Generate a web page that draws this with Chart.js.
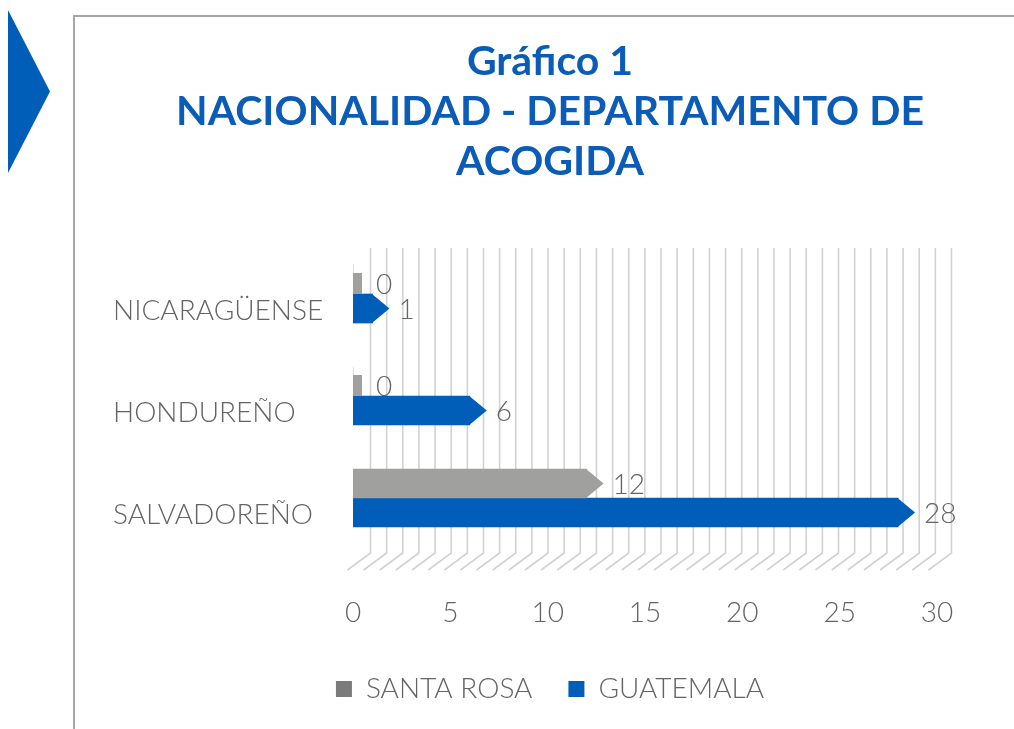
<!DOCTYPE html>
<html><head><meta charset="utf-8">
<script src="https://cdn.jsdelivr.net/npm/chart.js@4.4.1/dist/chart.umd.min.js"></script>
<style>
html,body{margin:0;padding:0;background:#fff;overflow:hidden;width:1014px;height:729px;}
#tri{position:absolute;left:8px;top:10px;width:42px;height:163px;background:#005eb8;clip-path:polygon(0 0,100% 50%,0 100%);}
#frame{position:absolute;left:73px;top:15px;width:1000px;height:800px;border-left:2px solid #a6a6a6;border-top:2px solid #a6a6a6;}
#wrap{position:absolute;left:75px;top:17px;width:950px;height:750px;}
</style></head><body>
<div id="tri"></div><div id="frame"></div>
<div id="wrap"><canvas id="c" width="950" height="750"></canvas></div>
<script>
// ---- data ----
const categories = ['NICARAGÜENSE', 'HONDUREÑO', 'SALVADOREÑO'];
const seriesNames = ['SANTA ROSA', 'GUATEMALA'];
const santaRosa = [0, 0, 12];
const guatemala = [1, 6, 28];
const xMin = 0;
const xMax = 30;
const xStep = 5;
const titleLines = ['Gráfico 1', 'NACIONALIDAD - DEPARTAMENTO DE', 'ACOGIDA'];

// ---- styles ----
const barColors = ['#a0a09f', '#005eb8'];
const legendColors = ['#7b7b7b', '#005eb8'];
const textColor = '#646464';
const FONT = 'Lato, "Open Sans", sans-serif';

const grid3d = {
  id: 'grid3d',
  beforeDatasetsDraw(chart) {
    const {ctx, chartArea: a, scales: {x}} = chart;
    const unit = x.getPixelForValue(1) - x.getPixelForValue(0);
    const spacing = unit * 0.829;
    const start = x.getPixelForValue(0) + unit * 0.9;
    ctx.save();
    ctx.strokeStyle = '#d2d2d2';
    ctx.lineWidth = 1.6;
    for (let i = 0; i <= 36; i++) {
      const px = start + i * spacing;
      ctx.beginPath();
      ctx.moveTo(px, a.top + 5);
      ctx.lineTo(px, a.bottom + 4);
      ctx.lineTo(px - 23, a.bottom + 21);
      ctx.stroke();
    }
    ctx.restore();
  }
};

const arrows = {
  id: 'arrows',
  afterDatasetsDraw(chart) {
    const {ctx} = chart;
    ctx.save();
    chart.data.datasets.forEach((ds, di) => {
      const meta = chart.getDatasetMeta(di);
      meta.data.forEach((el, i) => {
        const v = ds.data[i];
        const h = el.height;
        ctx.fillStyle = barColors[di];
        let lx, ly;
        if (v > 0) {
          ctx.beginPath();
          ctx.moveTo(el.x - 0.5, el.y - h / 2);
          ctx.lineTo(el.x + 17, el.y);
          ctx.lineTo(el.x - 0.5, el.y + h / 2);
          ctx.closePath();
          ctx.fill();
          lx = el.x + 17 + 9;
          ly = el.y;
        } else {
          const bottom = el.y + h / 2;
          ctx.fillRect(el.base, bottom - 21, 9, 21);
          lx = el.base + 23;
          ly = bottom - 10.5;
        }
        ctx.fillStyle = textColor;
        ctx.font = '300 28px ' + FONT;
        ctx.textAlign = 'left';
        ctx.textBaseline = 'middle';
        ctx.fillText(String(v), lx, ly + 1);
      });
    });
    ctx.restore();
  }
};

new Chart(document.getElementById('c'), {
  type: 'bar',
  data: {
    labels: categories,
    datasets: [
      {label: seriesNames[0], data: santaRosa, backgroundColor: barColors[0], borderWidth: 0, barThickness: 29},
      {label: seriesNames[1], data: guatemala, backgroundColor: barColors[1], borderWidth: 0, barThickness: 29}
    ]
  },
  options: {
    indexAxis: 'y',
    responsive: false,
    devicePixelRatio: 1,
    animation: false,
    layout: {padding: {left: 38, right: 38, top: 0, bottom: 54}},
    scales: {
      x: {
        min: xMin, max: xMax,
        ticks: {stepSize: xStep, color: textColor, font: {family: FONT, size: 28, weight: 300}, padding: 47},
        grid: {display: false, drawTicks: false},
        border: {display: false},
        afterFit(s) { s.height = 90; }
      },
      y: {
        ticks: {color: textColor, font: {family: FONT, size: 28, weight: 300}, crossAlign: 'far', labelOffset: 17, padding: 0},
        grid: {display: false, drawTicks: false},
        border: {display: false},
        afterFit(s) { s.width = 240; }
      },
      yRight: {
        axis: 'y',
        type: 'linear',
        position: 'right',
        ticks: {display: false},
        grid: {display: false, drawTicks: false},
        border: {display: false},
        afterFit(s) { s.width = 50; }
      }
    },
    plugins: {
      title: {
        display: true,
        text: titleLines,
        color: '#0b5cb6',
        font: {family: FONT, size: 41, weight: 'bold', lineHeight: '50px'},
        padding: {top: 20, bottom: 56}
      },
      legend: {
        position: 'bottom',
        labels: {
          color: textColor,
          font: {family: FONT, size: 28, weight: 300},
          boxWidth: 16, boxHeight: 16, padding: 36,
          generateLabels(chart) {
            const items = Chart.defaults.plugins.legend.labels.generateLabels(chart);
            items.forEach((it, k) => { it.fillStyle = legendColors[k]; it.lineWidth = 0; it.strokeStyle = legendColors[k]; });
            return items;
          }
        }
      },
      tooltip: {enabled: false}
    }
  },
  plugins: [grid3d, arrows]
});
</script>
</body></html>
